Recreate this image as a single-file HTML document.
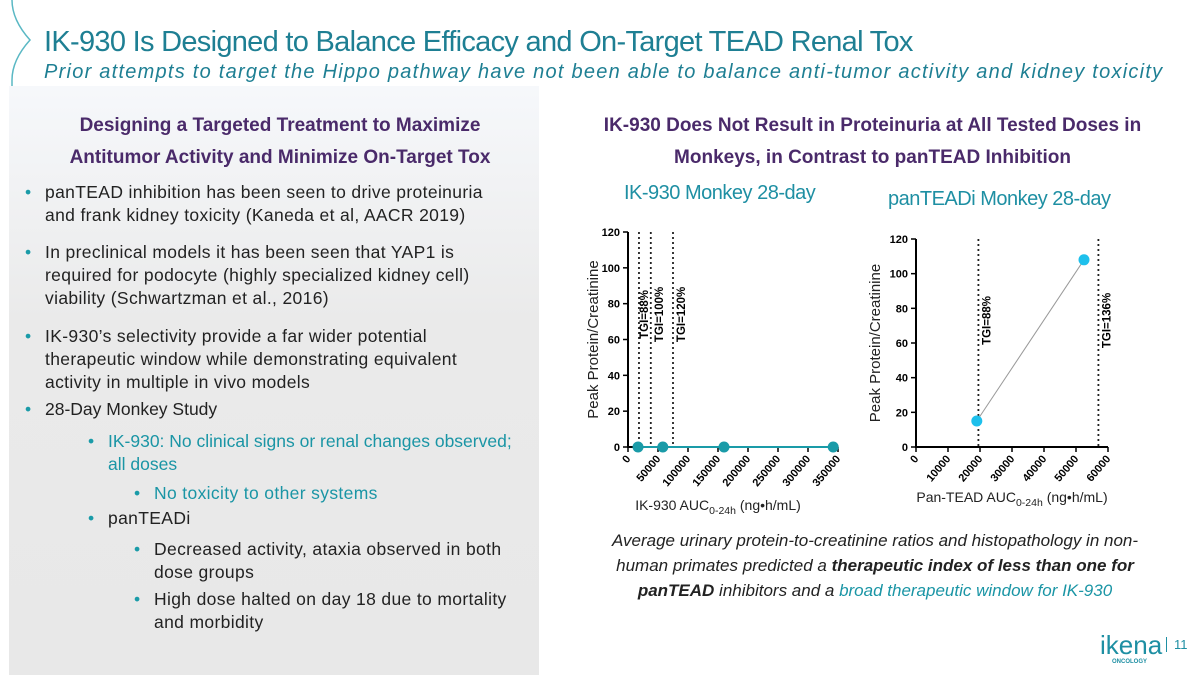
<!DOCTYPE html>
<html><head><meta charset="utf-8"><style>
body{margin:0;width:1200px;height:675px;overflow:hidden;background:#fff;font-family:"Liberation Sans",sans-serif;position:relative}
.t{position:absolute;white-space:nowrap}
#panel{position:absolute;left:9px;top:86px;width:530px;height:589px;background:linear-gradient(#f6f8fb,#eaeaea 40%,#e8e8e8)}
.b{position:absolute;font-size:17.5px;line-height:23px;color:#222;letter-spacing:0.35px}
.b:before{content:"•";position:absolute;left:-20px;color:#1a9ba8}
.teal{color:#1a95a5}
</style></head><body>
<svg style="position:absolute;left:0;top:0" width="40" height="675"><path d="M12 0 Q12 20 30 40 Q12 60 12 80 L12 675" fill="none" stroke="#5ab8c4" stroke-width="1.5"/></svg>
<div id="panel"></div>
<div class="t" style="left:44px;top:26px;font-size:29px;color:#1e7f93;letter-spacing:-0.7px">IK-930 Is Designed to Balance Efficacy and On-Target TEAD Renal Tox</div>
<div class="t" style="left:44px;top:61px;font-size:20px;font-style:italic;color:#1e7f93;letter-spacing:1.25px">Prior attempts to target the Hippo pathway have not been able to balance anti-tumor activity and kidney toxicity</div>
<div class="t" style="left:30px;width:500px;top:110px;text-align:center;font-size:19px;font-weight:bold;color:#4a2a6a;line-height:32px">Designing a Targeted Treatment to Maximize<br>Antitumor Activity and Minimize On-Target Tox</div>
<div class="t" style="left:575px;width:595px;top:110px;text-align:center;font-size:19px;font-weight:bold;color:#4a2a6a;line-height:32px;white-space:normal">IK-930 Does Not Result in Proteinuria at All Tested Doses in Monkeys, in Contrast to panTEAD Inhibition</div>
<div class="b" style="left:45px;top:181px">panTEAD inhibition has been seen to drive proteinuria<br>and frank kidney toxicity (Kaneda et al, AACR 2019)</div>
<div class="b" style="left:45px;top:241px">In preclinical models it has been seen that YAP1 is<br>required for podocyte (highly specialized kidney cell)<br>viability (Schwartzman et al., 2016)</div>
<div class="b" style="left:45px;top:325px">IK-930’s selectivity provide a far wider potential<br>therapeutic window while demonstrating equivalent<br>activity in multiple in vivo models</div>
<div class="b" style="left:45px;top:398px;letter-spacing:0">28-Day Monkey Study</div>
<div class="b teal" style="left:108px;top:430px;letter-spacing:0">IK-930: No clinical signs or renal changes observed;<br>all doses</div>
<div class="b teal" style="left:154px;top:482px">No toxicity to other systems</div>
<div class="b" style="left:108px;top:507px">panTEADi</div>
<div class="b" style="left:154px;top:538px">Decreased activity, ataxia observed in both<br>dose groups</div>
<div class="b" style="left:154px;top:588px">High dose halted on day 18 due to mortality<br>and morbidity</div>
<div class="t" style="left:624px;top:182px;font-size:20px;color:#1e8fa3;letter-spacing:-0.5px">IK-930 Monkey 28-day</div>
<div class="t" style="left:888px;top:188px;font-size:20px;color:#1e8fa3;letter-spacing:-0.5px">panTEADi Monkey 28-day</div>
<div class="t" style="left:575px;width:600px;top:528px;text-align:center;font-size:17px;font-style:italic;line-height:25px;color:#222">Average urinary protein-to-creatinine ratios and histopathology in non-<br>human primates predicted a <b>therapeutic index of less than one for<br>panTEAD</b> inhibitors and a <span style="color:#1a95a5">broad therapeutic window for IK-930</span></div>
<div class="t" style="left:1100px;top:630px;font-size:26px;color:#1e8fa3">ikena</div>
<div class="t" style="left:1112px;top:659px;font-size:6px;color:#1e8fa3;font-weight:bold">ONCOLOGY</div>
<div class="t" style="left:1166px;top:637px;font-size:13px;color:#1e8fa3;border-left:1px solid #1e8fa3;padding-left:7px">11</div>
<svg id="c" style="position:absolute;left:0;top:0" width="1200" height="675"></svg>
<script>
const ik_x=[16700,58000,160000,342000];
const ik_y=[0,0,0,0];
const ik_lines=[18300,38000,75000];
const ik_labels=["TGI=88%","TGI=100%","TGI=120%"];
const ik_xticks=[0,50000,100000,150000,200000,250000,300000,350000];
const pan_x=[19000,52500];
const pan_y=[15,108];
const pan_lines=[19500,57000];
const pan_labels=["TGI=88%","TGI=136%"];
const pan_xticks=[0,10000,20000,30000,40000,50000,60000];
const yticks=[0,20,40,60,80,100,120];
const NS="http://www.w3.org/2000/svg",svg=document.getElementById('c');
function mk(t,a,txt){const e=document.createElementNS(NS,t);for(const k in a)e.setAttribute(k,a[k]);if(txt!=null)e.textContent=txt;svg.appendChild(e);return e;}
function chart(o){
 const X=v=>o.x0+v/o.xmax*(o.x1-o.x0),Y=v=>o.y0-v/120*(o.y0-o.y1);
 let e=mk('line',{x1:o.x0,y1:o.y1,x2:o.x0,y2:o.y0+1,stroke:'#000','stroke-width':2});
 
 e=mk('line',{x1:o.x0,y1:o.y0,x2:o.x1,y2:o.y0,stroke:'#000','stroke-width':2});
 
 yticks.forEach(v=>{mk('line',{x1:o.x0-5,x2:o.x0,y1:Y(v),y2:Y(v),stroke:'#000','stroke-width':1.5});
  e=mk('text',{x:o.x0-8,y:Y(v)+4,'text-anchor':'end','font-size':11,'font-weight':'bold'},v);
  });
 o.xt.forEach(v=>{mk('line',{x1:X(v),x2:X(v),y1:o.y0,y2:o.y0+5,stroke:'#000','stroke-width':1.5});
  e=mk('text',{x:X(v)+3,y:o.y0+12,'text-anchor':'end','font-size':11,'font-weight':'bold',transform:`rotate(-50 ${X(v)+3} ${o.y0+12})`},v);
  });
 o.lines.forEach((v,i)=>{e=mk('line',{x1:X(v),x2:X(v),y1:o.y1,y2:o.y0,stroke:'#222','stroke-width':1.8,'stroke-dasharray':'2,3'});
  
  const tx=X(v)+(i==0&&o.n=='ik930'?9:12),ty=Y(o.ly);
  e=mk('text',{x:tx,y:ty,'text-anchor':'middle','font-size':11.5,'font-weight':'bold',transform:`rotate(-90 ${tx} ${ty})`},o.labels[i]);
  });
 e=mk('polyline',{points:o.xs.map((v,i)=>X(v)+','+Y(o.ys[i])).join(' '),fill:'none',stroke:o.lc,'stroke-width':o.lw});
 
 o.xs.forEach((v,i)=>{e=mk('circle',{cx:X(v),cy:Y(o.ys[i]),r:5.5,fill:o.pc});
  });
 const yl=(o.y0+o.y1)/2;
 e=mk('text',{x:o.yx,y:yl,'text-anchor':'middle','font-size':15,fill:'#222',transform:`rotate(-90 ${o.yx} ${yl})`},'Peak Protein/Creatinine');
 
 e=mk('text',{x:o.xtx,y:o.xty,'text-anchor':'middle','font-size':14,fill:'#222'});
 e.innerHTML=o.xtitle+'<tspan font-size="10.5" dy="4">0-24h</tspan><tspan dy="-4"> (ng•h/mL)</tspan>';
 
}
chart({n:'ik930',x0:628,x1:838,xmax:350000,y0:447,y1:232,xs:ik_x,ys:ik_y,lines:ik_lines,labels:ik_labels,xt:ik_xticks,ly:74,lc:'#1a9ba8',lw:2,pc:'#1a9ba8',yx:598,xtx:718,xty:510,xtitle:'IK-930 AUC'});
chart({n:'pantead',x0:916,x1:1108,xmax:60000,y0:447,y1:239,xs:pan_x,ys:pan_y,lines:pan_lines,labels:pan_labels,xt:pan_xticks,ly:73,lc:'#999',lw:1,pc:'#1ec0ec',yx:880,xtx:1012,xty:502,xtitle:'Pan-TEAD AUC'});
</script>
</body></html>
